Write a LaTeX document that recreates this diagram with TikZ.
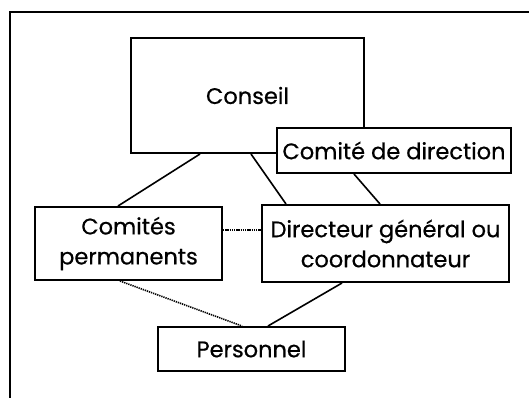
\documentclass[tikz,border=0pt]{standalone}
\usepackage{fontspec}
\setmainfont[FakeBold=0.6]{Poppins}
\usepackage{tikz}
\usetikzlibrary{calc}
\tikzset{%
  box/.style={draw,fill=white,line width=2pt,align=center,inner sep=0pt},
  link/.style={line width=1.6pt},
  dotlink/.style={line width=1.6pt,dash pattern=on 1.3pt off 0.9pt}%
}

\begin{document}
\begin{tikzpicture}[
    x=1pt, y=-1pt,
    font=\fontsize{22.5}{30}\selectfont
]
\useasboundingbox (0,0) rectangle (529,397);
\clip (0,0) rectangle (529,397);

% outer frame
\draw[line width=2.2pt] (10,12) rectangle (560,430);

% Nodes
\node[box, minimum width=233pt, minimum height=115pt] (conseil) at (247.5,95.5)
{Conseil};

\node[box, minimum width=234pt, minimum height=45pt] (comdir) at (394,150.5)
{Comité de direction};

\node[box, minimum width=187pt, minimum height=73pt] (comperm) at (128.5,243.5)
{Comités\\permanents};

\node[box, minimum width=247pt, minimum height=77pt] (dg) at (385.5,243.5)
{Directeur général ou\\coordonnateur};

\node[box, minimum width=187pt, minimum height=44pt] (perso) at (251.5,349)
{Personnel};

% Links
\draw[link] ([xshift=-47.5pt]conseil.south) -- ([xshift=-10.5pt]comperm.north);
\draw[link] ([xshift=3.5pt]conseil.south) -- ([xshift=-99.5pt]dg.north);
\draw[link] ([xshift=-40pt]comdir.south) -- ([xshift=-5.5pt]dg.north);
\draw[link] ([xshift=-43.5pt]dg.south) -- ([xshift=16.5pt]perso.north);

% Dotted links
\draw[dotlink] ([yshift=13.5pt]comperm.east) -- ([yshift=13.5pt]dg.west);
\draw[dotlink] ([xshift=-8.5pt]comperm.south) -- ([xshift=-9.5pt]perso.north);

\end{tikzpicture}
\end{document}
